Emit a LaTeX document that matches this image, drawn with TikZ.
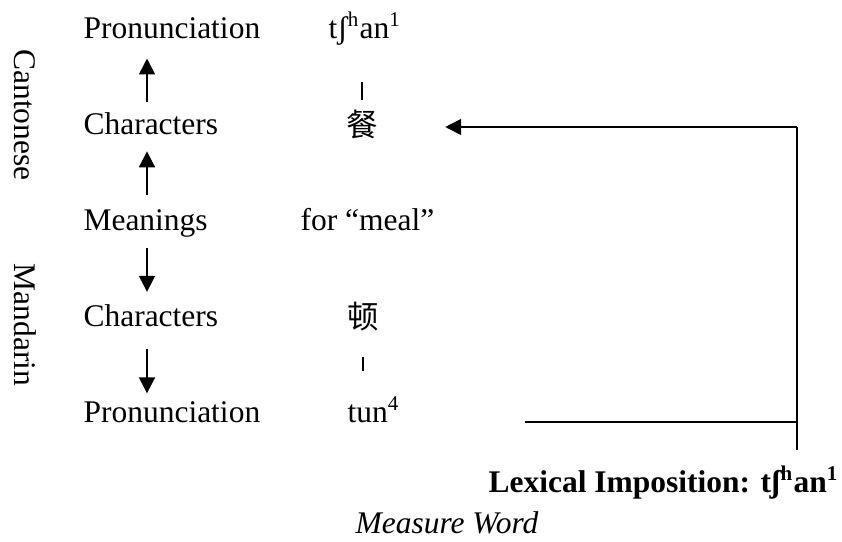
\documentclass[tikz,border=0pt]{standalone}
\usepackage{fontspec}
\setmainfont{Liberation Serif}
\newfontfamily\cjk{Noto Sans CJK SC}
\usetikzlibrary{arrows.meta,positioning}
\tikzset{>={Triangle[length=6.1pt,width=6pt]}}
\tikzset{
  level/.style={anchor=base west, inner sep=0pt, text height=8.2pt, text depth=2.6pt},
  form/.style={anchor=base west, inner sep=0pt},
  hanzi/.style={inner sep=0pt, font=\fontsize{12}{14}\cjk},
  flow/.style={->, line width=0.9pt},
  tick/.style={line width=0.4pt},
}

\begin{document}
\begin{tikzpicture}[x=0.381pt, y=-0.381pt, font=\fontsize{12}{14}\selectfont]
  \useasboundingbox (0,0) rectangle (842,541);
  % the two languages
  \node[rotate=-90, inner sep=0pt] (cant) at (25,115) {Cantonese};
  \node[rotate=-90, inner sep=0pt] (mand) at (25,325) {Mandarin};
  % levels
  \node[level] (pc) at (83,38) {Pronunciation};
  \node[level] (chc) at (83,134) {Characters};
  \node[level] (mean) at (83,230) {Meanings};
  \node[level] (chm) at (83,326) {Characters};
  \node[level] (pm) at (83,422) {Pronunciation};
  \coordinate (ax) at (147,0);
  \draw[flow, shorten <=3.8pt, shorten >=5pt] (chc.north -| ax) -- (pc.south -| ax);
  \draw[flow, shorten <=5pt, shorten >=3.8pt] (mean.north -| ax) -- (chc.south -| ax);
  \draw[flow, shorten <=4.2pt, shorten >=4.6pt] (mean.south -| ax) -- (chm.north -| ax);
  \draw[flow, shorten <=6pt, shorten >=2.5pt] (chm.south -| ax) -- (pm.north -| ax);
  % forms
  \node[form] (tcan) at (328,38) {tʃ\textsuperscript{h}an\textsuperscript{1}};
  \node[hanzi] (can) at (362,124) {餐};
  \node[form] (meal) at (300,230) {for “meal”};
  \node[hanzi] (dun) at (363,317) {顿};
  \node[form] (tun) at (347,422) {tun\textsuperscript{4}};
  \draw[tick, shorten <=14pt, shorten >=3.6pt] (tcan.south -| can) -- (can.north);
  \draw[tick, shorten <=9.5pt, shorten >=9.5pt] (dun.south) -- (tun.north -| dun);
  % imposition
  \node[form, font=\fontsize{12}{14}\selectfont\bfseries] (lex) at (488,492)
    {Lexical Imposition: tʃ\textsuperscript{h}an\textsuperscript{1}};
  \node[form, font=\fontsize{12}{14}\selectfont\itshape] (mw) at (355,533) {Measure Word};
  \coordinate (turn) at (797,127);
  \coordinate (vend) at (797,450);
  \draw[tick] (vend) -- (turn);
  \draw[flow, shorten >=25.5pt] (turn) -- (can.east |- turn);
  \draw[line width=0.8pt, shorten <=47.6pt] (tun.base east) -- (tun.base east -| turn);
\end{tikzpicture}
\end{document}
